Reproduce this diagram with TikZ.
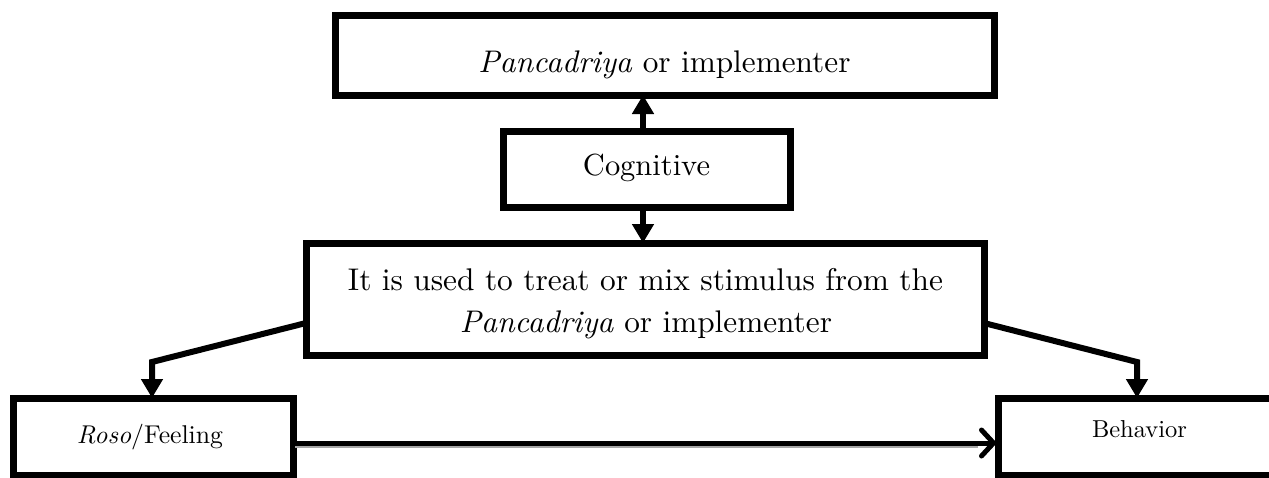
\documentclass[tikz,border=0pt]{standalone}
\usetikzlibrary{arrows.meta}
\usepackage{graphicx}
\begin{document}
\begin{tikzpicture}[x=1pt,y=-1pt,
  box/.style={draw=black,line width=7pt,rectangle,inner sep=0pt,outer sep=0pt},
  conn/.style={line width=6pt,-{Triangle[length=19pt,width=21pt]}},
  flow/.style={line width=5pt,line cap=round,-{Straight Barb[length=12pt,width=26pt,round]}},
  shadowline/.style={line width=5pt,draw=black!35},
  txt/.style={inner sep=0pt,outer sep=0pt,anchor=base}]
\useasboundingbox (0,0) rectangle (1269,477);
\clip (0,0) rectangle (1269,477);

% boxes
\node[box,minimum width=659pt,minimum height=80pt] (top) at (664.5,55) {};
\node[box,minimum width=287pt,minimum height=76pt] (cog) at (646.5,169) {};
\node[box,minimum width=678pt,minimum height=112pt] (big) at (645,299) {};
\node[box,minimum width=280pt,minimum height=77pt] (roso) at (153,436.5) {};
\node[box,minimum width=283pt,minimum height=77pt] (beh) at (1139.5,436.5) {};

% texts
\node[txt] (toptext) at (664.5,72) {\resizebox{372pt}{!}{\textit{Pancadriya} or implementer}};
\node[txt] (cogtext) at (646.5,175) {\resizebox{127pt}{!}{Cognitive}};
\node[txt] (bigone) at (645.5,290) {\resizebox{595pt}{!}{It is used to treat or mix stimulus from the}};
\node[txt] (bigtwo) at (646,332) {\resizebox{372pt}{!}{\textit{Pancadriya} or implementer}};
\node[txt] (rosotext) at (150,443) {\resizebox{146pt}{!}{\textit{Roso}/Feeling}};
\node[txt] (behtext) at (1139.5,437) {\resizebox{95pt}{!}{Behavior}};

% connectors
\draw[conn] ([xshift=-3.5pt]cog.north) -- ([xshift=-3.5pt]cog.north |- top.south);
\draw[conn] ([xshift=-3.5pt]cog.south) -- ([xshift=-3.5pt]cog.south |- big.north);

\coordinate (lbend) at (152,362);
\coordinate (rbend) at (1137,362);
\draw[conn] ([yshift=-24pt]big.west) -- (lbend) -- (lbend |- roso.north);
\draw[conn] ([yshift=-24pt]big.east) -- (rbend) -- (rbend |- beh.north);

% horizontal flow with slight shadow
\draw[shadowline] ([xshift=2pt,yshift=-9pt]roso.east) -- ([xshift=-20pt,yshift=-9pt]beh.west);
\draw[flow] ([yshift=-6.5pt]roso.east) -- ([xshift=-2pt,yshift=-6.5pt]beh.west);
\end{tikzpicture}
\end{document}
